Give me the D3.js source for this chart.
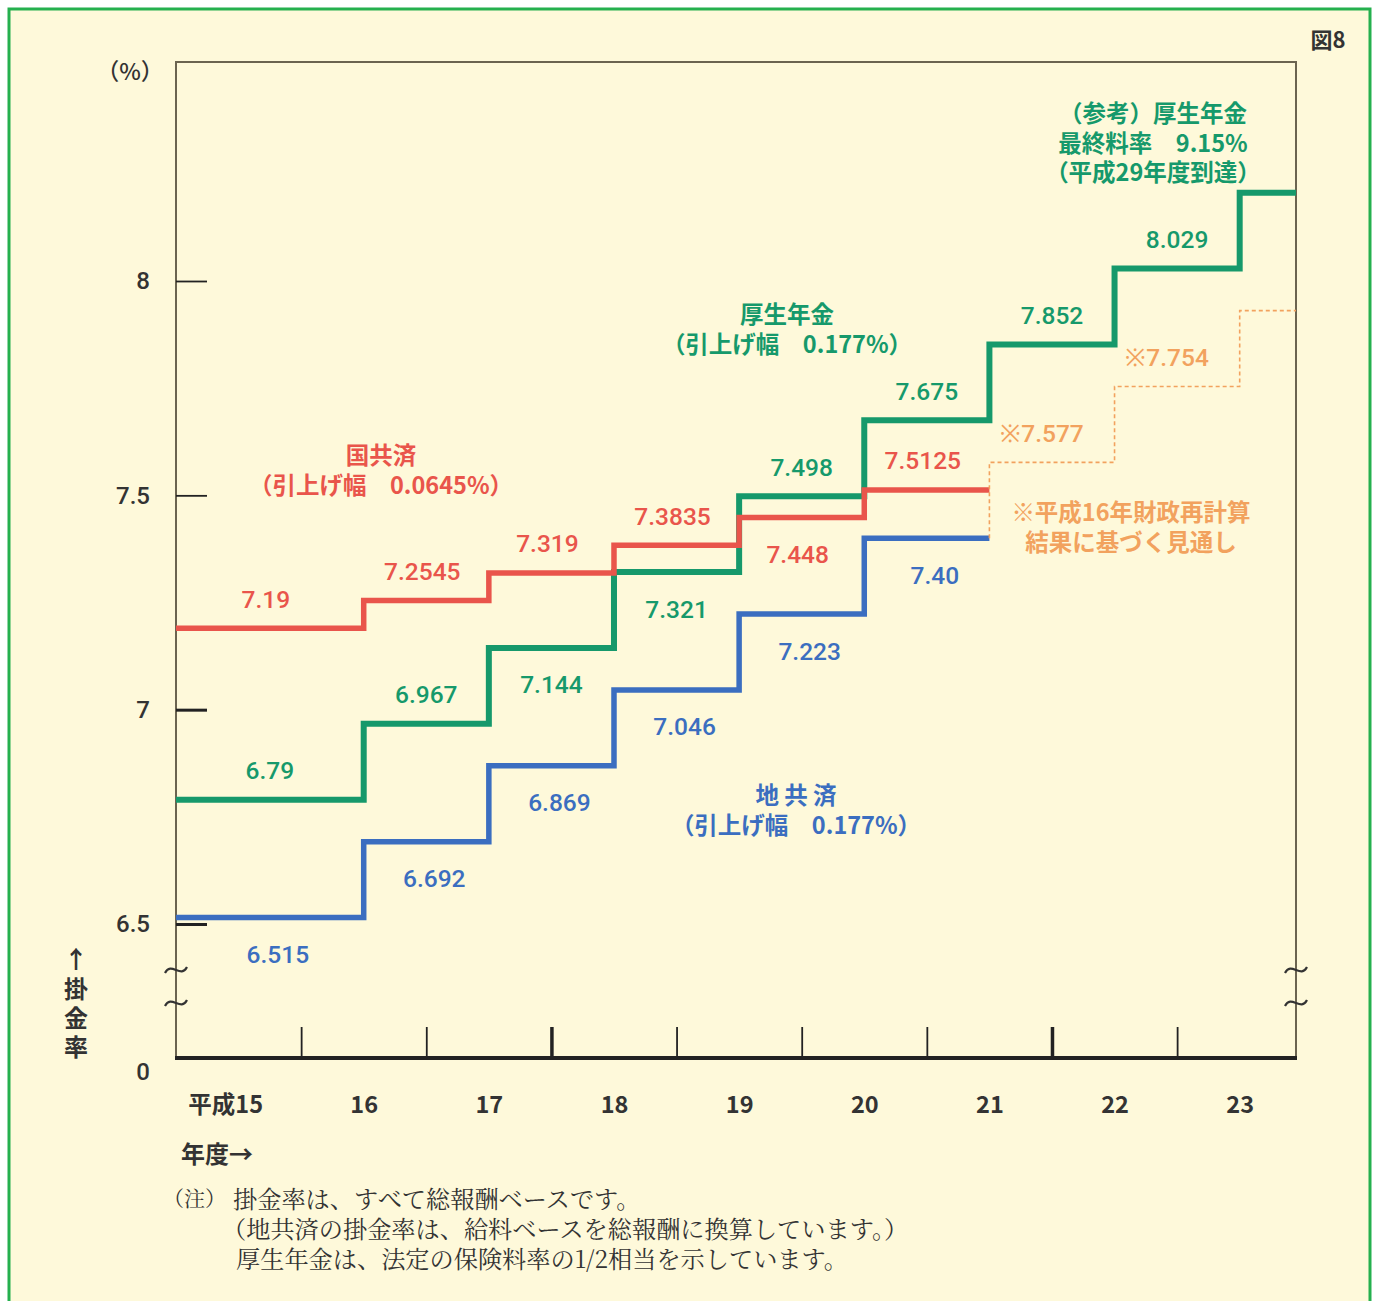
<!DOCTYPE html>
<html><head><meta charset="utf-8">
<script src="https://cdn.jsdelivr.net/npm/d3@7"></script>
<style>
body{margin:0;background:#fff;}
svg{display:block;}
</style></head><body>
<svg id="c" width="1377" height="1301"></svg>
<script>
// ---------------- data ----------------
const years = [15,16,17,18,19,20,21,22,23];
const yearLabels = ["平成15","16","17","18","19","20","21","22","23"];
const kouseiValues = [6.79,6.967,7.144,7.321,7.498,7.675,7.852,8.029,8.206];
const kouseiLabels = ["6.79","6.967","7.144","7.321","7.498","7.675","7.852","8.029",""];
const kokuValues = [7.19,7.2545,7.319,7.3835,7.448,7.5125];
const kokuLabels = ["7.19","7.2545","7.319","7.3835","7.448","7.5125"];
const chiValues = [6.515,6.692,6.869,7.046,7.223,7.40];
const chiLabels = ["6.515","6.692","6.869","7.046","7.223","7.40"];
const projYears = [21,22,23];
const projValues = [7.577,7.754,7.931];
const projLabels = ["※7.577","※7.754",""];
const yTicks = [6.5,7,7.5,8];
const yTickLabels = ["6.5","7","7.5","8"];
const halfYearTicks = [15.5,16.5,17.5,18.5,19.5,20.5,21.5,22.5];
const majorHalfTicks = [17.5,21.5];

// ---------------- layout (not data) ----------------
const kouseiSide = [-1,-1,1,1,-1,-1,-1,-1,0];
const kokuSide = [-1,-1,-1,-1,1,-1];
const chiSide = [1,1,1,1,1,1];
const projSide = [-1,-1,0];

const C = {green:"#16996b", red:"#e9554b", blue:"#3b6ec0", orange:"#f2a25e", text:"#333", frame:"#6b6450", bg:"#fef9da"};
const NUM = "Roboto, 'Liberation Sans', Arial, sans-serif";
const JP = "'Noto Sans CJK JP', 'Noto Sans', sans-serif";

const svg = d3.select("#c");
const pLeft=176, pRight=1296, pTop=62, pBottom=1058;
const xStart=14.5, xEnd=23.45;

const x = d3.scaleLinear().domain([xStart,xEnd]).range([pLeft,pRight]);
const y = d3.scaleLinear().domain([6.5,8]).range([924,281]);

// background & border
svg.append("rect").attr("x",9).attr("y",9).attr("width",1361).attr("height",1320)
  .attr("fill",C.bg).attr("stroke","#25b04e").attr("stroke-width",3);

// plot frame (top, right, left)
svg.append("path").attr("d",`M${pLeft},${pBottom}V${pTop}H${pRight}V${pBottom}`)
  .attr("fill","none").attr("stroke",C.frame).attr("stroke-width",2);

// y axis ticks
const yAxis = d3.axisLeft(y).tickValues(yTicks).tickSize(-31).tickPadding(26)
  .tickFormat((d,i)=>yTickLabels[i]);
const gy = svg.append("g").attr("transform",`translate(${pLeft},0)`).call(yAxis);
gy.select(".domain").remove();
gy.selectAll(".tick line").attr("stroke","#222").attr("stroke-width",d=>d<=7?3:1.8);
gy.selectAll(".tick text").attr("font-family",NUM).attr("font-weight",500).attr("font-size",24).attr("fill",C.text);

// bottom axis with half-year ticks
const xTickAxis = d3.axisBottom(x).tickValues(halfYearTicks).tickSize(-31).tickFormat("");
const gx = svg.append("g").attr("transform",`translate(0,${pBottom})`).call(xTickAxis);
gx.select(".domain").remove();
gx.selectAll(".tick line").attr("stroke","#222").attr("stroke-width",d=>majorHalfTicks.includes(d)?3.5:1.8);
svg.append("line").attr("x1",pLeft-1).attr("x2",pRight+1).attr("y1",pBottom).attr("y2",pBottom)
  .attr("stroke","#222").attr("stroke-width",4);

// year labels
const xLabAxis = d3.axisBottom(x).tickValues(years).tickSize(0).tickPadding(38)
  .tickFormat((d,i)=>yearLabels[i]);
const gxl = svg.append("g").attr("transform",`translate(0,${pBottom})`).call(xLabAxis);
gxl.select(".domain").remove();
gxl.selectAll(".tick text").attr("font-family",JP).attr("font-weight",600).attr("font-size",23.5).attr("fill",C.text)
  .attr("text-anchor",(d,i)=>i===0?"end":"middle").attr("dx",(d,i)=>i===0?24:0);

// axis break marks
function tilde(cx,cy){
  svg.append("path").attr("d",`M${cx-11},${cy+3}C${cx-5},${cy-9} ${cx+5},${cy+9} ${cx+11},${cy-3}`)
    .attr("fill","none").attr("stroke","#333").attr("stroke-width",2.2);
}
[pLeft,pRight].forEach(cx=>{ tilde(cx,pBottom-88); tilde(cx,pBottom-55); });

// zero label
svg.append("text").attr("x",pLeft-26).attr("y",pBottom+14).attr("text-anchor","end").attr("dominant-baseline","central")
  .attr("font-family",NUM).attr("font-weight",500).attr("font-size",24).attr("fill",C.text).text("0");

// ---------------- series ----------------
function segs(vals, startYears, endYear, first){
  return vals.map((v,i)=>({x0: i===0 ? first : startYears[i], x1: i<vals.length-1 ? startYears[i+1] : endYear, v}));
}
function pts(sg){ const p=[]; sg.forEach(s=>{p.push([s.x0,s.v]);p.push([s.x1,s.v]);}); return p; }
const line = d3.line().x(d=>x(d[0])).y(d=>y(d[1]));

const chiSegs = segs(chiValues, years, 21, xStart);
const kouseiSegs = segs(kouseiValues, years, xEnd, xStart);
const kokuSegs = segs(kokuValues, years, 21, xStart);
const projSegs = segs(projValues, projYears, xEnd, projYears[0]);

svg.append("path").attr("d",line(pts(chiSegs))).attr("fill","none").attr("stroke",C.blue).attr("stroke-width",5.5);
svg.append("path").attr("d",line(pts(kouseiSegs))).attr("fill","none").attr("stroke",C.green).attr("stroke-width",6);
svg.append("path").attr("d",line(pts(kokuSegs))).attr("fill","none").attr("stroke",C.red).attr("stroke-width",5.5);
svg.append("path").attr("d",line([[projYears[0],chiValues[chiValues.length-1]]].concat(pts(projSegs))))
  .attr("fill","none").attr("stroke",C.orange).attr("stroke-width",1.6).attr("stroke-dasharray","4,3");

function labels(sg, texts, sides, color, dx){
  svg.append("g").selectAll("text").data(sg.map((s,i)=>({s,t:texts[i],side:sides[i]})).filter(d=>d.t))
    .join("text")
    .attr("x",d=>x((d.s.x0+d.s.x1)/2)+dx)
    .attr("y",d=>y(d.s.v)+(d.side<0?-29:37))
    .attr("text-anchor","middle").attr("dominant-baseline","central")
    .attr("font-family",NUM).attr("font-weight",500).attr("font-size",24.5).attr("fill",color)
    .text(d=>d.t);
}
labels(kouseiSegs,kouseiLabels,kouseiSide,C.green,0);
labels(kokuSegs,kokuLabels,kokuSide,C.red,-4);
labels(chiSegs,chiLabels,chiSide,C.blue,8);
labels(projSegs,projLabels,projSide,C.orange,-10);

// ---------------- annotations ----------------
const notes = [
  {lines:["（参考）厚生年金","最終料率　9.15%","（平成29年度到達）"], cx:1153, cy:112, color:C.green},
  {lines:["厚生年金","（引上げ幅　0.177%）"], cx:787, cy:313, color:C.green},
  {lines:["国共済","（引上げ幅　0.0645%）"], cx:381, cy:454, color:C.red},
  {lines:["地 共 済","（引上げ幅　0.177%）"], cx:796, cy:794, color:C.blue},
  {lines:["※平成16年財政再計算","結果に基づく見通し"], cx:1131, cy:511, color:C.orange}
];
notes.forEach(n=>{
  const t = svg.append("text").attr("text-anchor","middle").attr("dominant-baseline","central")
    .attr("font-family",JP).attr("font-weight",600).attr("font-size",23.5).attr("fill",n.color);
  n.lines.forEach((s,i)=>{
    t.append("tspan").attr("x",n.cx).attr("y",n.cy+i*29.5).attr("dominant-baseline","central").text(s);
  });
});

// misc text
function txt(t,x0,y0,opt){
  return svg.append("text").attr("x",x0).attr("y",y0).attr("dominant-baseline","central")
    .attr("font-family",opt.ff||JP).attr("font-weight",opt.fw||500).attr("font-size",opt.fs||22)
    .attr("fill",opt.fill||C.text).attr("text-anchor",opt.anchor||"start").text(t);
}
txt("図8",1328,38,{anchor:"middle",fw:700,fs:22});
txt("（%）",130,70,{anchor:"middle",fs:23});
txt("年度→",181,1152,{fw:700,fs:24});
txt("↑",76,957,{anchor:"middle",fw:700,fs:24});
svg.append("text").attr("x",76).attr("y",977).attr("writing-mode","vertical-rl")
  .style("text-orientation","upright").attr("letter-spacing",5)
  .attr("font-family",JP).attr("font-weight",700).attr("font-size",24).attr("fill",C.text).text("掛金率");

// footnote block
const SERIF = "'Noto Serif CJK JP','Noto Sans CJK JP',serif";
const footLines = [
  {t:"（注）", x:163, y:1197, fs:21},
  {t:"掛金率は、すべて総報酬ベースです。", x:233, y:1197, fs:24.2},
  {t:"（地共済の掛金率は、給料ベースを総報酬に換算しています。）", x:222, y:1227, fs:24.2},
  {t:"厚生年金は、法定の保険料率の1/2相当を示しています。", x:236, y:1257, fs:24.2}
];
const ft = svg.append("text").attr("font-family",SERIF).attr("font-weight",400).attr("fill",C.text);
footLines.forEach(l=>{
  ft.append("tspan").attr("x",l.x).attr("y",l.y).attr("dominant-baseline","central").attr("font-size",l.fs).text(l.t);
});
</script>
</body></html>
